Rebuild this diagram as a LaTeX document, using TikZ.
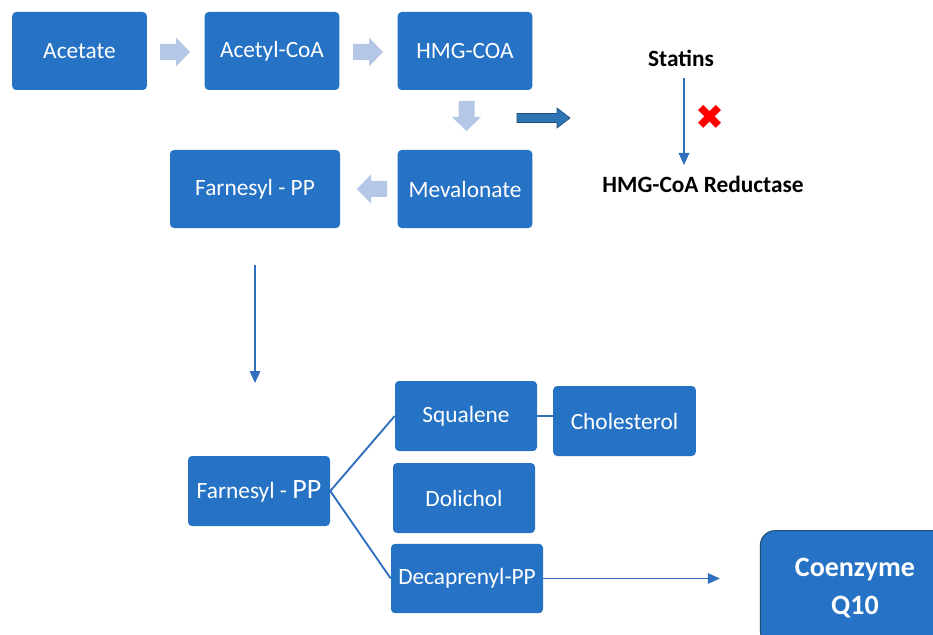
\documentclass[tikz,border=0pt]{standalone}
\usepackage{fontspec}
\setmainfont{Carlito}
\newfontfamily\symfont{DejaVu Sans}
\usetikzlibrary{arrows.meta, positioning}
\definecolor{boxblue}{RGB}{38,114,196}
\definecolor{paleblue}{RGB}{180,199,231}
\definecolor{darkblue}{RGB}{46,117,182}
\definecolor{edgeblue}{RGB}{31,78,121}
\definecolor{lineblue}{RGB}{47,111,190}
\tikzstyle{block} = [rectangle, fill=boxblue, text=white, rounded corners=3pt,
  minimum width=101pt, minimum height=58.5pt, font=\fontsize{17.5}{21}\selectfont]
\tikzstyle{sblock} = [block, minimum width=106.5pt, minimum height=52.5pt]
\tikzstyle{bigblock} = [block, draw=edgeblue, line width=0.8pt, rounded corners=11pt,
  minimum width=142pt, minimum height=86pt, align=center,
  font=\fontsize{21}{29}\selectfont\bfseries]
\tikzstyle{label} = [text=black, font=\fontsize{17.5}{21}\selectfont\bfseries]
\tikzstyle{thinline} = [draw=lineblue, line width=0.8pt, -{Triangle[length=9pt,width=8pt]}]
\tikzstyle{branch} = [draw=lineblue, line width=1.4pt]
\tikzset{
  fatarrow/.pic={\fill[paleblue] (-15,-8) -- (1,-8) -- (1,-14.5) -- (15,0)
    -- (1,14.5) -- (1,8) -- (-15,8) -- cycle;},
  darkarrow/.pic={\filldraw[fill=darkblue, draw=edgeblue, line width=0.5pt]
    (-26,-4.5) -- (14,-4.5) -- (14,-10) -- (27,0) -- (14,10) -- (14,4.5)
    -- (-26,4.5) -- cycle;}
}

\begin{document}
\begin{tikzpicture}[x=0.75pt, y=-0.75pt]

      \useasboundingbox (0,0) rectangle (933,635);

      %
      % Top row
      %

      \node [block] (acetate) at (79.5,51) {Acetate};
      \node [block] (acetylcoa) at (272,51) {Acetyl-CoA};
      \node [block] (hmgcoa) at (465,51) {HMG-COA};
      \node [block] (mevalonate) at (465,189) {Mevalonate};
      \node [block, minimum width=127.5pt] (farnesyl) at (255,189) {Farnesyl - PP};

      \pic at (175,52) {fatarrow};
      \pic at (368,52) {fatarrow};
      \pic[rotate=-90] at (466.5,116) {fatarrow};
      \pic[rotate=180] at (372,189) {fatarrow};
      \pic at (543,118) {darkarrow};

      %
      % Statins
      %

      \node [label] (statins) at (681,58) {Statins};
      \node [label] (reductase) at (703,184) {HMG-CoA Reductase};
      \node [text=red, font=\symfont\fontsize{26}{26}\selectfont] (cross) at (710,117) {✖};
      \coordinate (sa) at (684,78);
      \coordinate (sb) at (684,165);
      \path [thinline] (sa) -- (sb);

      %
      % Branches
      %

      \node [sblock] (farnesylb) at (259,491) {Farnesyl - {\fontsize{21}{21}\selectfont PP}};
      \node [sblock] (squalene) at (466,416) {Squalene};
      \node [sblock, minimum width=107pt] (cholesterol) at (624.5,421) {Cholesterol};
      \node [sblock] (dolichol) at (464,498) {Dolichol};
      \node [sblock, minimum width=114pt, minimum height=52pt] (decaprenyl) at (467,578.5) {Decaprenyl-PP};
      \node [bigblock] (coq) at (855,588) {Coenzyme\\Q10};

      \coordinate (fa) at (255,265);
      \coordinate (fb) at (255,383);
      \path [thinline] (fa) -- (fb);
      \path [branch] (farnesylb.east) -- (squalene.west);
      \path [branch] (farnesylb.east) -- (decaprenyl.west);
      \path [branch] (squalene.east) -- (cholesterol.west |- squalene.east);
      \path [thinline, shorten >=30] (decaprenyl.east) -- (coq.west |- decaprenyl.east);

    \end{tikzpicture}
\end{document}
